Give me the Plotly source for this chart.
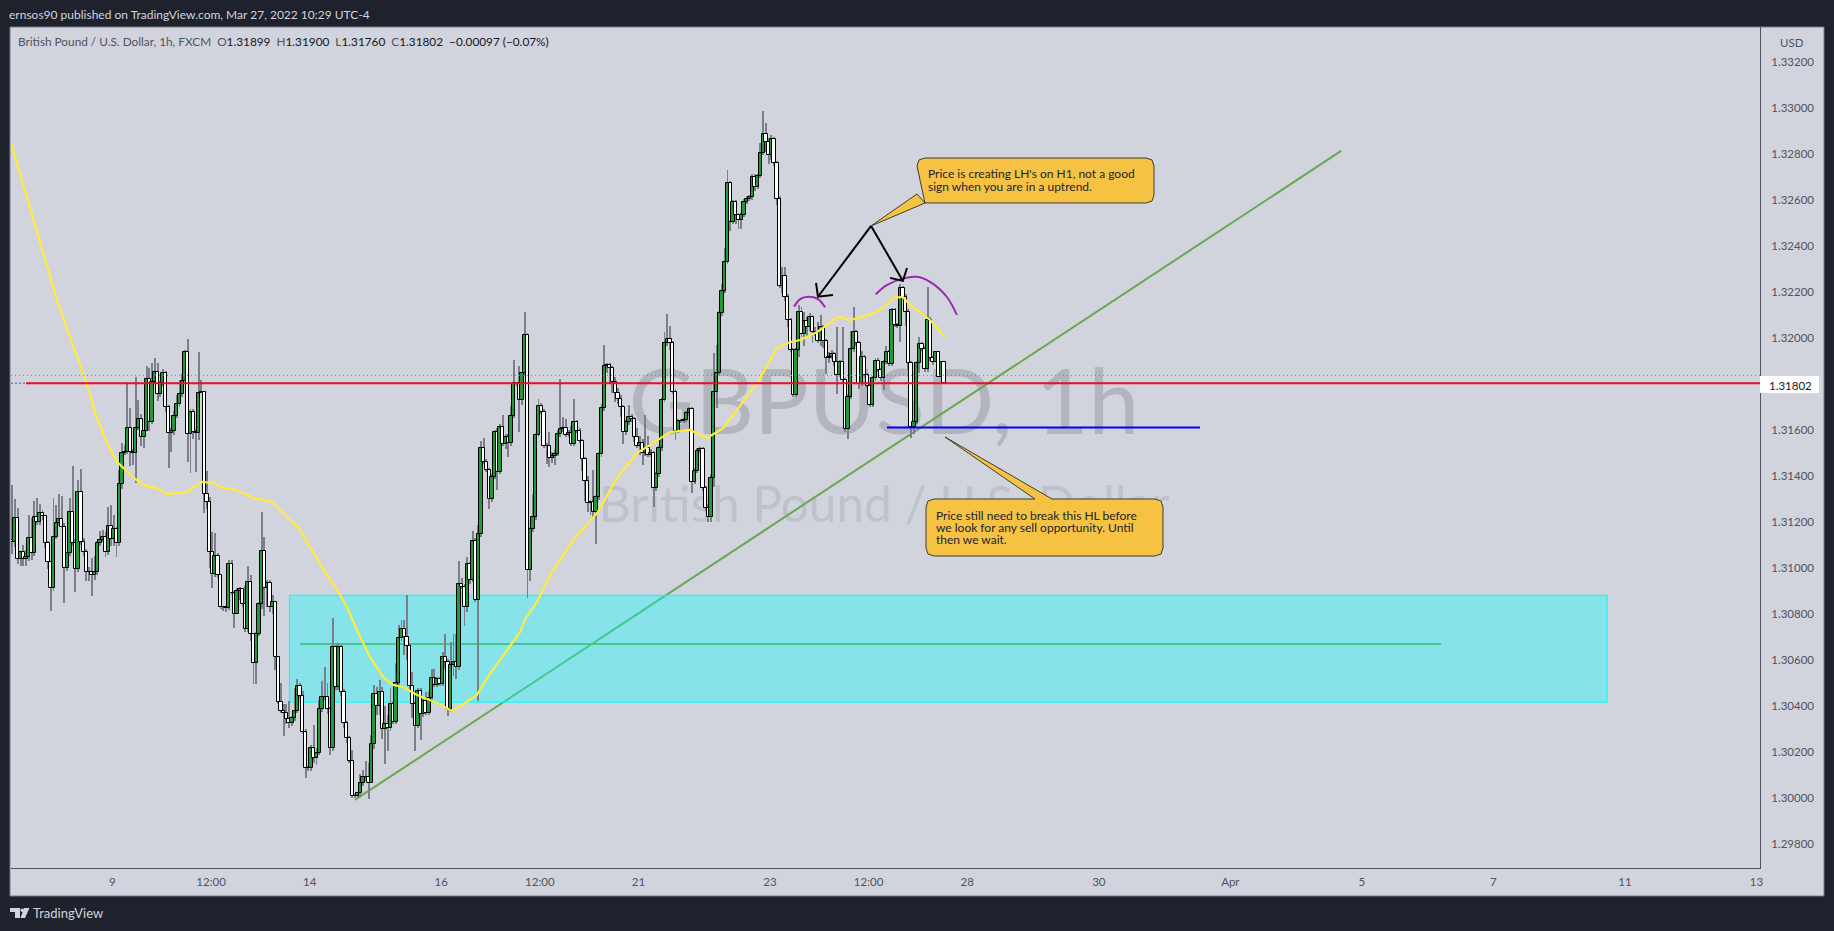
import plotly.graph_objects as go

# GBPUSD 1h closes, one per hour, weekends skipped
first_open = 1.31120
closes = [
    1.31110, 1.31218, 1.31036, 1.31070, 1.31036, 1.31048, 1.31128, 1.31062, 1.31222, 1.31197,
    1.31239, 1.31226, 1.31106, 1.31023, 1.30910, 1.31135, 1.31193, 1.31210, 1.31176, 1.30997,
    1.31062, 1.31244, 1.31106, 1.30993, 1.31331, 1.31110, 1.31070, 1.30983, 1.30980, 1.30968,
    1.30980, 1.31106, 1.31120, 1.31135, 1.31067, 1.31183, 1.31123, 1.31167, 1.31106, 1.31364,
    1.31500, 1.31504, 1.31606, 1.31504, 1.31497, 1.31609, 1.31647, 1.31570, 1.31596, 1.31819,
    1.31635, 1.31809, 1.31852, 1.31754, 1.31802, 1.31845, 1.31697, 1.31584, 1.31596, 1.31661,
    1.31710, 1.31754, 1.31813, 1.31936, 1.31580, 1.31678, 1.31591, 1.31584, 1.31758, 1.31765,
    1.31319, 1.31287, 1.31067, 1.30971, 1.31052, 1.30967, 1.30831, 1.30831, 1.30826, 1.31015,
    1.30889, 1.30797, 1.30900, 1.30906, 1.30841, 1.30732, 1.30936, 1.30712, 1.30586, 1.30712,
    1.30841, 1.31074, 1.30910, 1.30935, 1.30828, 1.30850,
    1.30613, 1.30417, 1.30378, 1.30369, 1.30340, 1.30323, 1.30345, 1.30378, 1.30487, 1.30443,
    1.30287, 1.30127, 1.30127, 1.30217, 1.30171, 1.30195, 1.30384, 1.30436, 1.30439, 1.30384,
    1.30214, 1.30653, 1.30479, 1.30653, 1.30461, 1.30323, 1.30258, 1.30159, 1.30007, 1.30007,
    1.30019, 1.30062, 1.30091, 1.30091, 1.30062, 1.30232, 1.30449, 1.30398, 1.30461, 1.30297,
    1.30319, 1.30301, 1.30406, 1.30330, 1.30497, 1.30692, 1.30732, 1.30700, 1.30659, 1.30487,
    1.30406, 1.30311, 1.30465, 1.30362, 1.30421, 1.30369, 1.30432, 1.30519, 1.30490, 1.30514,
    1.30494, 1.30613, 1.30591, 1.30384, 1.30577, 1.30591, 1.30566, 1.30927, 1.30917, 1.30827,
    1.31015, 1.30947, 1.31118, 1.30860, 1.31145, 1.31522,
    1.31461, 1.31425, 1.31297, 1.31396, 1.31589, 1.31418, 1.31613, 1.31538, 1.31570, 1.31541,
    1.31661, 1.31802, 1.31805, 1.31729, 1.31845, 1.32012, 1.30990, 1.31167, 1.31219, 1.31577,
    1.31705, 1.31678, 1.31531, 1.31531, 1.31476, 1.31485, 1.31494, 1.31580, 1.31602, 1.31606,
    1.31577, 1.31587, 1.31538, 1.31632, 1.31596, 1.31550, 1.31471, 1.31378, 1.31280, 1.31284,
    1.31244, 1.31306, 1.31493, 1.31693, 1.31877, 1.31881, 1.31867, 1.31809, 1.31761, 1.31732,
    1.31697, 1.31589, 1.31632, 1.31657, 1.31645, 1.31567, 1.31529, 1.31541, 1.31497, 1.31522,
    1.31490, 1.31497, 1.31345, 1.31406, 1.31519, 1.31729, 1.31976, 1.31993, 1.31976, 1.31765,
    1.31594, 1.31638, 1.31638, 1.31642, 1.31671, 1.31689, 1.31374, 1.31422, 1.31509, 1.31515,
    1.31345, 1.31258, 1.31219, 1.31389, 1.31765, 1.31848, 1.32106, 1.32204, 1.32330, 1.32671,
    1.32504, 1.32588, 1.32533, 1.32511, 1.32533, 1.32591, 1.32605, 1.32610, 1.32700, 1.32656,
    1.32703, 1.32805, 1.32884, 1.32849, 1.32794, 1.32862, 1.32758, 1.32605, 1.32224, 1.32269,
    1.32178, 1.32076, 1.31946, 1.31750, 1.31946, 1.32113, 1.32014, 1.32072, 1.32047, 1.32088,
    1.32026, 1.32019, 1.31985, 1.32047, 1.31985, 1.31910, 1.31917, 1.31927, 1.31895, 1.31837,
    1.31895, 1.31816, 1.31601, 1.31743, 1.31949, 1.32023, 1.31975, 1.31798, 1.31914, 1.31837,
    1.31790, 1.31707, 1.31823, 1.31900, 1.31859, 1.31823, 1.31895, 1.31936, 1.31885, 1.32120,
    1.32055, 1.32050, 1.32214, 1.32178, 1.32113, 1.31888, 1.31613, 1.31634, 1.31888, 1.31971,
    1.31953, 1.31862, 1.32079, 1.31910, 1.31893, 1.31939, 1.31830, 1.31895, 1.31802,
]

# wick lengths in pips above and below each body
upper_pips = [
    24, 8, 4, 0, 3, 3, 10, 9, 7, 8, 4, 1, 0, 1, 0, 17, 8, 11, 10, 2,
    0, 6, 20, 2, 5, 10, 2, 1, 2, 6, 7, 1, 4, 3, 2, 8, 9, 6, 1, 6,
    4, 3, 20, 9, 1, 22, 8, 2, 0, 6, 5, 8, 6, 4, 1, 2, 1, 1, 1, 2,
    4, 6, 3, 1, 6, 1, 1, 1, 18, 5, 0, 10, 2, 9, 10, 1, 0, 0, 0, 2,
    2, 1, 1, 1, 0, 8, 7, 3, 0, 1, 1, 17, 6, 1, 1, 3,
    0, 0, 8, 3, 4, 8, 1, 10, 3, 1, 2, 1, 1, 1, 10, 2, 4, 7, 13, 6,
    1, 13, 1, 2, 1, 1, 1, 1, 5, 1, 0, 4, 3, 7, 6, 4, 4, 3, 5, 2,
    8, 4, 7, 1, 9, 6, 4, 4, 18, 1, 6, 1, 1, 1, 1, 4, 3, 4, 4, 1,
    1, 2, 10, 1, 10, 12, 12, 10, 3, 1, 3, 1, 4, 1, 4, 3,
    4, 1, 1, 1, 1, 2, 1, 5, 1, 1, 4, 10, 0, 7, 0, 10, 1, 1, 10, 1,
    3, 1, 1, 1, 6, 2, 2, 2, 22, 5, 4, 1, 3, 10, 1, 1, 1, 1, 2, 1,
    14, 1, 1, 2, 9, 1, 1, 1, 2, 2, 2, 1, 1, 5, 1, 1, 4, 3, 2, 14,
    5, 2, 1, 1, 1, 1, 5, 11, 6, 1, 1, 1, 1, 1, 1, 1, 1, 1, 1, 1,
    1, 1, 2, 2, 17, 12, 1, 3, 6, 6, 1, 1, 1, 1, 1, 1, 1, 1, 1, 1,
    1, 4, 10, 5, 2, 2, 1, 1, 1, 4, 4, 1, 1, 1, 1, 3, 2, 4, 2, 2,
    1, 2, 5, 5, 1, 1, 2, 2, 1, 15, 1, 15, 1, 1, 8, 11, 1, 1, 3, 1,
    1, 1, 1, 1, 1, 1, 1, 3, 1, 1, 1, 1, 2, 1, 1, 1, 1, 1, 1, 3,
    1, 1, 14, 1, 1, 3, 1, 1, 0,
]
lower_pips = [
    5, 2, 2, 3, 3, 3, 2, 3, 1, 1, 1, 2, 2, 3, 10, 1, 1, 1, 0, 15,
    1, 1, 1, 10, 1, 1, 2, 4, 4, 9, 2, 1, 1, 1, 2, 1, 3, 3, 6, 1,
    2, 1, 1, 6, 5, 13, 1, 4, 5, 0, 4, 1, 1, 3, 1, 1, 2, 15, 8, 2,
    1, 1, 1, 0, 12, 17, 3, 17, 3, 0, 8, 3, 7, 6, 1, 1, 1, 2, 2, 1,
    1, 6, 0, 4, 1, 1, 1, 3, 9, 9, 1, 2, 12, 8, 2, 3,
    6, 1, 1, 10, 2, 2, 1, 1, 1, 1, 1, 4, 1, 1, 2, 3, 1, 1, 1, 2,
    3, 1, 1, 1, 2, 2, 2, 1, 1, 1, 1, 1, 1, 2, 7, 0, 2, 4, 4, 4,
    15, 10, 1, 1, 1, 1, 1, 8, 6, 2, 6, 11, 1, 11, 1, 1, 1, 1, 1, 1,
    1, 1, 3, 3, 1, 5, 5, 1, 1, 8, 2, 2, 1, 1, 44, 1,
    1, 1, 4, 1, 1, 8, 1, 1, 2, 6, 1, 1, 1, 14, 2, 1, 12, 5, 1, 1,
    1, 1, 1, 8, 4, 2, 4, 1, 1, 1, 1, 1, 1, 1, 1, 1, 5, 9, 4, 5,
    3, 14, 1, 1, 1, 3, 7, 5, 4, 2, 4, 5, 1, 1, 1, 2, 1, 4, 5, 1,
    1, 1, 8, 1, 1, 1, 1, 1, 3, 1, 4, 1, 1, 1, 1, 1, 5, 1, 1, 1,
    1, 1, 2, 2, 4, 7, 1, 1, 1, 1, 4, 1, 4, 4, 4, 1, 1, 1, 1, 2,
    1, 1, 1, 4, 4, 2, 1, 3, 1, 3, 2, 3, 1, 1, 1, 3, 1, 5, 4, 2,
    5, 1, 1, 2, 3, 7, 2, 1, 2, 8, 1, 1, 1, 4, 1, 1, 1, 2, 1, 1,
    1, 1, 1, 1, 1, 1, 5, 1, 1, 1, 1, 1, 7, 1, 6, 3, 5, 3, 1, 4,
    1, 1, 1, 1, 1,
][:len(closes)]

# moving average, read at irregular points (bar position, price)
ma_x = [0, 16.8, 21.9, 27.7, 30.7, 35, 38.7, 44.5, 48.2, 52.6, 56.9, 64.2, 69.7, 73.7, 77.4, 81, 86.5, 88.3, 95.3,
        101, 104.7, 109, 115.3, 119, 122.6, 126.6, 131, 135.8, 139.4, 143, 148.2, 155.5, 161, 165.7, 170, 174,
        179.6, 185.8, 187.6, 192, 196.7, 201.5, 205.8, 213.9, 221.2, 228.5, 233.2, 240.5, 247.8, 254, 259.9,
        265, 272.3, 279.6, 284.3, 288, 294.2, 301.8, 306.2, 313.5, 318.2, 321.9, 325.5, 328.1, 335.4, 340.9]
ma_y = [1.32846, 1.32164, 1.31990, 1.31799, 1.31673, 1.31542, 1.31460, 1.31394, 1.31360, 1.31347, 1.31320, 1.31329,
        1.31373, 1.31368, 1.31347, 1.31342, 1.31316, 1.31303, 1.31286, 1.31216, 1.31177, 1.31090, 1.30968, 1.30903,
        1.30829, 1.30720, 1.30612, 1.30525, 1.30490, 1.30481, 1.30446, 1.30412, 1.30377, 1.30412, 1.30446, 1.30525,
        1.30620, 1.30720, 1.30777, 1.30851, 1.30968, 1.31055, 1.31129, 1.31238, 1.31390, 1.31499, 1.31533, 1.31590,
        1.31599, 1.31564, 1.31607, 1.31686, 1.31803, 1.31955, 1.31981, 1.31990, 1.32025, 1.32090, 1.32077, 1.32099,
        1.32129, 1.32173, 1.32177, 1.32142, 1.32077, 1.32003]

y_ticks = [1.33, 1.328, 1.326, 1.324, 1.322, 1.32, 1.316, 1.314, 1.312, 1.31, 1.308, 1.306, 1.304, 1.302, 1.3, 1.298, 1.332]
x_tick_pos = [37, 73, 109, 157, 193, 229, 277, 313, 349, 397, 445, 493, 541, 589, 637]
x_tick_text = ["9", "12:00", "14", "16", "12:00", "21", "23", "12:00", "28", "30", "Apr", "5", "7", "11", "13"]

last_price = 1.31802
dotted_level = 1.31836
hl_level = 1.31609
zone_low, zone_high = 1.30415, 1.30880
zone_mid = 1.30668

arc1_x = [285.8, 288, 290.9, 294.5, 297.1]
arc1_y = [1.32135, 1.32168, 1.32178, 1.32168, 1.32132]
arc2_x = [315.6, 319.6, 325.7, 330.5, 335.4, 341.5, 345.2]
arc2_y = [1.32189, 1.32229, 1.32258, 1.32265, 1.32243, 1.32178, 1.32099]
arrows_x = [313.9, 294.5, None, 293.8, 294.5, 300, None, 313.9, 325.5, None, 320.8, 325.5, 327]
arrows_y = [1.32486, 1.32178, None, 1.32238, 1.32178, 1.32186, None, 1.32486, 1.32247, None, 1.3226, 1.32247, 1.32303]

W, H = 1834, 931
L, R, T, B = 11, 1760, 27, 868
DARK = "#1e222d"
PANE = "#d1d4dc"
GRAY = "#50535e"
FONT = "Lato"


def xp(px):
    return (px - L) / (R - L)


def yp(py):
    return (B - py) / (B - T)


def note(text, px, py, size=12, color=GRAY, anchor="left"):
    return dict(text=text, x=xp(px), y=yp(py), xref="paper", yref="paper", showarrow=False,
                xanchor=anchor, yanchor="middle", font=dict(family=FONT, size=size, color=color),
                borderpad=0, borderwidth=0)


def poly(points, fill, line=None):
    path = "M" + " L".join(f"{xp(a):.5f},{yp(b):.5f}" for a, b in points) + " Z"
    return dict(type="path", path=path, xref="paper", yref="paper", fillcolor=fill,
                line=dict(color=line or fill, width=1 if line else 0), layer="above")


def bubble(x0, y0, x1, y1, tail, r=8):
    # rounded box, tail points are spliced into the edge they belong to
    top = tail if tail[0][1] <= y0 else []
    left = tail if tail[0][1] > y0 else []
    pts = [(x0 + r, y0)] + top + [(x1 - r, y0), (x1 - 2, y0 + 2), (x1, y0 + r), (x1, y1 - r), (x1 - 2, y1 - 2),
                                  (x1 - r, y1), (x0 + r, y1)]
    pts += left if left else [(x0 + 2, y1 - 2), (x0, y1 - r)]
    pts += [(x0, y0 + r), (x0 + 2, y0 + 2)]
    return poly(pts, "#f5c243", "#3f3d33")


opens = [first_open] + closes[:-1]
xs = [i + 0.5 for i in range(len(closes))]
bottoms = [min(o, c) for o, c in zip(opens, closes)]
tops = [max(o, c) for o, c in zip(opens, closes)]
heights = [t - b for t, b in zip(tops, bottoms)]
colors = ["#1f9a36" if c >= o else "#ffffff" for o, c in zip(opens, closes)]
lows = [b - p * 0.0001 for b, p in zip(bottoms, lower_pips)]
highs = [t + p * 0.0001 for t, p in zip(tops, upper_pips)]

fig = go.Figure()
fig.add_trace(go.Bar(x=xs, y=[h - l for h, l in zip(highs, lows)], base=lows, width=0.34,
                     marker=dict(color="#7c7f8a", line=dict(width=0))))
fig.add_trace(go.Bar(x=xs, y=heights, base=bottoms, width=1.2,
                     marker=dict(color=colors, line=dict(color="#000000", width=1))))
fig.add_trace(go.Scatter(x=ma_x, y=ma_y, mode="lines", line=dict(color="#ffeb3b", width=2.2)))
fig.add_trace(go.Scatter(x=[5.5, 638.3], y=[last_price, last_price], mode="lines", line=dict(color="#ff0000", width=2)))
fig.add_trace(go.Scatter(x=[0, 638.3], y=[last_price, last_price], mode="lines",
                         line=dict(color="#2962ff", width=1, dash="2px,2px")))
fig.add_trace(go.Scatter(x=[0, 638.3], y=[dotted_level, dotted_level], mode="lines",
                         line=dict(color="#ef5350", width=1, dash="1px,3px")))
fig.add_trace(go.Scatter(x=[319.7, 433.9], y=[hl_level, hl_level], mode="lines", line=dict(color="#0000ff", width=2)))
fig.add_trace(go.Scatter(x=arc1_x, y=arc1_y, mode="lines", line=dict(color="#9c27b0", width=2, shape="spline")))
fig.add_trace(go.Scatter(x=arc2_x, y=arc2_y, mode="lines", line=dict(color="#9c27b0", width=2, shape="spline")))
fig.add_trace(go.Scatter(x=arrows_x, y=arrows_y, mode="lines", line=dict(color="#000000", width=2)))

shapes = [
    # chart frame with the two axis panes
    dict(type="rect", xref="paper", yref="paper", x0=xp(10), x1=xp(1824), y0=yp(896), y1=yp(27),
         fillcolor=PANE, line=dict(color="#787b86", width=1), layer="below"),
    # watermark goes under the candles, so it is a shape label not an annotation
    dict(type="rect", xref="paper", yref="paper", x0=xp(584), x1=xp(1184), y0=yp(452), y1=yp(342),
         line=dict(width=0), layer="below",
         label=dict(text="GBPUSD, 1h", textposition="middle center",
                    font=dict(family=FONT, size=91, color="#b2b5be"))),
    dict(type="rect", xref="paper", yref="paper", x0=xp(584), x1=xp(1184), y0=yp(528), y1=yp(476),
         line=dict(width=0), layer="below",
         label=dict(text="British Pound / U.S. Dollar", textposition="middle center",
                    font=dict(family=FONT, size=49.5, color="#bfc2ca"))),
    # trend lines stay under the zone, it tints them
    dict(type="line", x0=125.5, x1=485.4, y0=1.2999, y1=1.32812, line=dict(color="#6aa84f", width=2), layer="below"),
    dict(type="line", x0=105.5, x1=521.9, y0=zone_mid, y1=zone_mid, line=dict(color="#6aa84f", width=2), layer="below"),
    dict(type="rect", x0=101.6, x1=582.5, y0=zone_low, y1=zone_high, fillcolor="rgba(0,255,255,0.364)",
         line=dict(color="#00ffff", width=1), layer="below"),
    # price tag
    dict(type="rect", xref="paper", yref="paper", x0=xp(1760), x1=xp(1819), y0=yp(393), y1=yp(376),
         fillcolor="#ffffff", line=dict(width=0), layer="above"),
    # callouts
    bubble(917, 158, 1154, 203, [(917, 194), (871, 226), (925, 203)]),
    bubble(926, 499, 1163, 556, [(1035, 499), (945, 437), (1052, 499)]),
    # logo
    poly([(10, 908), (20, 908), (20, 918), (15, 918), (15, 912), (10, 912)], PANE),
    poly([(24, 908), (29.5, 908), (25, 918), (20.5, 918)], PANE),
    dict(type="circle", xref="paper", yref="paper", x0=xp(20.5), x1=xp(24), y0=yp(912), y1=yp(908.5),
         fillcolor=PANE, line=dict(width=0), layer="above"),
]

GAP = "\u00a0\u00a0"
ohlc = (f'<span style="color:#50535e">British Pound / U.S. Dollar, 1h, FXCM{GAP}O</span>'
        f'<span style="color:#131722">1.31899</span><span style="color:#50535e">{GAP}H</span>'
        f'<span style="color:#131722">1.31900</span><span style="color:#50535e">{GAP}L</span>'
        f'<span style="color:#131722">1.31760</span><span style="color:#50535e">{GAP}C</span>'
        f'<span style="color:#131722">1.31802{GAP}−0.00097 (−0.07%)</span>')

annotations = [
    note("ernsos90 published on TradingView.com, Mar 27, 2022 10:29 UTC-4", 9, 15, 12, PANE),
    note(ohlc, 18, 41, 11.8),
    note("USD", 1792, 43, 11.5, GRAY, "center"),
    note("1.31802", 1790, 385, 11.5, "#131722", "center"),
    note("Price is creating LH's on H1, not a good", 928, 174, 12, "#1e222d"),
    note("sign when you are in a uptrend.", 928, 186, 12, "#1e222d"),
    note("Price still need to break this HL before", 936, 515, 12, "#1e222d"),
    note("we look for any sell opportunity. Until", 936, 527, 12, "#1e222d"),
    note("then we wait.", 936, 539, 12, "#1e222d"),
    note("TradingView", 33, 913, 13, PANE),
]

fig.update_layout(
    width=W, height=H,
    margin=dict(l=L, r=W - R, t=T, b=H - B, pad=0),
    paper_bgcolor=DARK, plot_bgcolor=PANE,
    barmode="overlay", bargap=0, showlegend=False,
    shapes=shapes, annotations=annotations,
    font=dict(family=FONT, size=12, color=GRAY),
)
fig.update_xaxes(range=[0, 638.3], tickvals=x_tick_pos, ticktext=x_tick_text, showgrid=False, zeroline=False,
                 showline=True, linecolor=GRAY, linewidth=1, ticks="outside", ticklen=3, tickcolor="rgba(0,0,0,0)",
                 tickfont=dict(family=FONT, size=11.5, color=GRAY))
fig.update_yaxes(range=[1.29694, 1.33351], side="right", tickvals=y_ticks, tickformat=".5f", showgrid=False,
                 zeroline=False, showline=True, linecolor=GRAY, linewidth=1, ticks="outside", ticklen=8,
                 tickcolor="rgba(0,0,0,0)", tickfont=dict(family=FONT, size=11.5, color=GRAY))

fig.write_html("out.html", config={"displayModeBar": False},
               post_script="document.body.style.margin='0';document.body.style.overflow='hidden';"
                           "document.body.style.background='#1e222d';")
